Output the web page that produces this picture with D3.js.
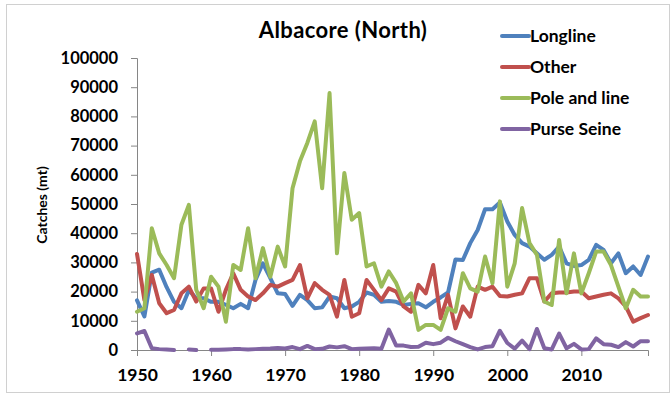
<!DOCTYPE html>
<html><head><meta charset="utf-8">
<script src="https://cdn.jsdelivr.net/npm/d3@7"></script>
<style>body{margin:0;background:#fff}svg{display:block}text{font-family:Lato,"Liberation Sans",sans-serif;font-weight:bold}</style>
</head><body><svg id="c" width="672" height="394"></svg>
<script>
const years = d3.range(1950, 2020);
const longline = [17000,11500,26500,27500,21500,16500,14300,20500,17700,17700,16500,16500,15500,14300,15800,14300,24000,29700,24600,19400,19200,15100,18900,17100,14300,14600,18300,17700,14300,14900,16500,19700,18900,16500,16800,16500,15400,15800,16000,14600,16500,18000,19700,31000,30800,36600,41100,48200,48200,50500,44000,39400,36600,35400,33100,30900,32600,35400,29700,28800,29100,30900,36000,34300,29700,33100,26300,28600,25700,32000];
const other = [32900,17100,25700,16000,12600,13700,19400,21700,16600,21100,21100,13100,20600,26300,20600,18300,17100,19400,22300,21700,22900,24000,29100,17700,22900,20600,18900,11400,24000,11400,12600,24000,20600,17100,21100,20000,14900,13100,22300,19400,29100,10900,18900,7400,14900,11400,21700,20600,21700,18500,18300,18900,19400,24600,24600,16600,19400,19700,19700,20000,20000,17700,18300,18900,19400,17700,14900,9700,10900,12000];
const poleLine = [13100,14300,41700,33100,29100,24600,42900,49700,20600,14300,25100,21700,9700,29100,27400,41700,24600,34900,25100,35400,28600,55400,64600,70900,78300,55400,88000,33100,60600,44600,46900,28600,29700,21700,26900,22900,16600,19400,6900,8600,8600,6900,14300,13100,26300,21100,20000,32000,22900,50900,21700,29700,48600,36600,32600,16600,15400,37700,19400,33100,19400,26300,33700,33700,29100,21700,14300,20600,18300,18300];
const purseSeine = [5700,6500,600,300,200,0,null,200,0,null,100,100,200,300,300,200,300,400,500,700,500,1000,300,1400,300,400,1200,900,1300,300,400,500,600,400,7000,1500,1500,1000,1100,2500,2000,2500,4200,3000,2000,1000,200,1000,1300,6600,2400,500,3200,300,7200,600,200,5600,600,2100,200,300,4000,2000,1800,1000,2700,1200,3000,3000];
const seriesNames = ["Longline","Other","Pole and line","Purse Seine"];
const seriesColors = ["#4F81BD","#C0504D","#9BBB59","#8064A2"];
const yTicks = [0,10000,20000,30000,40000,50000,60000,70000,80000,90000,100000];
const xTicks = [1950,1960,1970,1980,1990,2000,2010];

const svg = d3.select("#c");
svg.append("rect").attr("x",6.5).attr("y",4.5).attr("width",663).attr("height",388)
  .attr("fill","none").attr("stroke","#d0d0d0");

const x = d3.scaleLinear().domain([1950,2019]).range([137,648]);
const y = d3.scaleLinear().domain([0,100000]).range([350,58]);

const ya = svg.append("g").attr("transform","translate(137,0)")
  .call(d3.axisLeft(y).tickValues(yTicks).tickFormat(d3.format("d")).tickSize(6).tickPadding(13));
ya.select(".domain").attr("stroke","#868686");
ya.selectAll(".tick line").attr("stroke","#868686");
ya.selectAll("text").attr("font-size",16.5).attr("fill","#000").attr("font-family","Lato").attr("font-weight","bold");

const xa = svg.append("g").attr("transform","translate(0,350)")
  .call(d3.axisBottom(x).tickValues(xTicks).tickFormat(d3.format("d")).tickSize(6).tickPadding(13));
xa.select(".domain").attr("stroke","#868686");
xa.selectAll(".tick line").attr("stroke","#868686");
xa.selectAll("text").attr("font-size",17.5).attr("fill","#000").attr("font-family","Lato").attr("font-weight","bold");

const all = [longline, other, poleLine, purseSeine];
const line = d3.line().defined(d => d[1] !== null).x(d => x(d[0])).y(d => y(d[1]));
all.forEach((s,i) => {
  svg.append("path").datum(years.map((yr,j)=>[yr,s[j]]))
    .attr("d",line).attr("fill","none").attr("stroke",seriesColors[i])
    .attr("stroke-width",4).attr("stroke-linejoin","round").attr("stroke-linecap","round");
});

svg.append("text").attr("x",343).attr("y",38).attr("text-anchor","middle")
  .attr("font-size",22).attr("letter-spacing",0.4).text("Albacore (North)");

svg.append("text").attr("transform","translate(47,205) rotate(-90)").attr("text-anchor","middle")
  .attr("font-size",14).text("Catches (mt)");

const lg = svg.append("g");
seriesNames.forEach((n,i) => {
  const yy = 36 + i*31;
  lg.append("line").attr("x1",502).attr("x2",529).attr("y1",yy).attr("y2",yy)
    .attr("stroke",seriesColors[i]).attr("stroke-width",4).attr("stroke-linecap","round");
  lg.append("text").attr("x",530).attr("y",yy+6).attr("font-size",17.5).text(n);
});
</script></body></html>
